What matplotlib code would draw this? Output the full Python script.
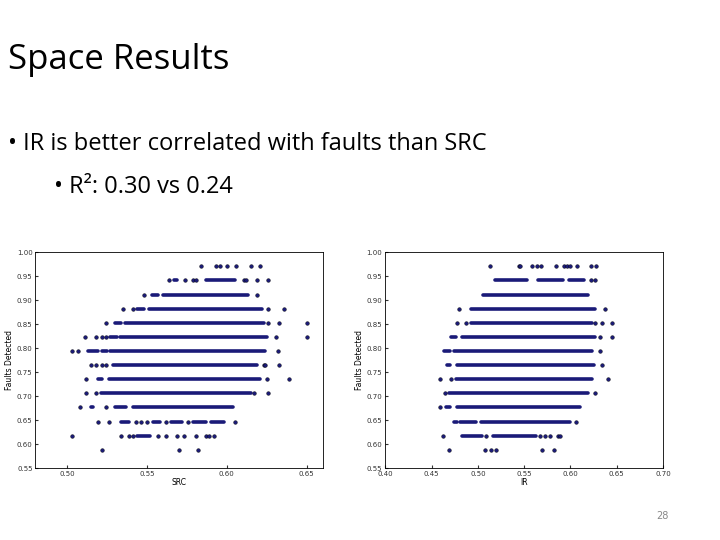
import matplotlib.pyplot as plt

# fault-detection levels (rows of the scatter)
levels = [k / 34 for k in range(20, 34)]  # 0.588 .. 0.971

# SRC plot: isolated points and dense runs (start, end) per level
src_points = [
    [0.522, 0.570, 0.582],
    [0.503, 0.534, 0.539, 0.541, 0.557, 0.562, 0.569, 0.573, 0.581, 0.587, 0.589, 0.592],
    [0.519, 0.526, 0.543, 0.546, 0.550, 0.562, 0.576, 0.605],
    [0.508, 0.524],
    [0.512, 0.518, 0.617, 0.626],
    [0.512, 0.625, 0.639],
    [0.515, 0.518, 0.522, 0.524, 0.623, 0.624, 0.633],
    [0.503, 0.507, 0.632],
    [0.511, 0.518, 0.522, 0.524, 0.631, 0.650],
    [0.524, 0.626, 0.633, 0.650],
    [0.535, 0.541, 0.626, 0.636],
    [0.548, 0.619],
    [0.564, 0.574, 0.579, 0.581, 0.611, 0.612, 0.619, 0.626],
    [0.584, 0.593, 0.596, 0.600, 0.606, 0.615, 0.621],
]
src_runs = [
    [],
    [(0.544, 0.552)],
    [(0.534, 0.539), (0.554, 0.558), (0.565, 0.572), (0.579, 0.587), (0.590, 0.598)],
    [(0.515, 0.516), (0.530, 0.537), (0.541, 0.604)],
    [(0.521, 0.615)],
    [(0.519, 0.522), (0.526, 0.621)],
    [(0.529, 0.619)],
    [(0.513, 0.519), (0.522, 0.525), (0.527, 0.624)],
    [(0.527, 0.531), (0.533, 0.625)],
    [(0.530, 0.534), (0.536, 0.623)],
    [(0.544, 0.548), (0.551, 0.622)],
    [(0.553, 0.557), (0.560, 0.613)],
    [(0.567, 0.569), (0.587, 0.605)],
    [],
]

# IR plot
ir_points = [
    [0.469, 0.508, 0.514, 0.520, 0.569, 0.582],
    [0.462, 0.509, 0.567, 0.572, 0.578, 0.587, 0.589],
    [0.606],
    [0.459],
    [0.465, 0.626],
    [0.459, 0.471, 0.640],
    [0.634],
    [0.632],
    [0.632, 0.645],
    [0.477, 0.487, 0.627, 0.634, 0.645],
    [0.480, 0.637],
    [],
    [0.622, 0.627],
    [0.513, 0.544, 0.546, 0.558, 0.564, 0.568, 0.584, 0.593, 0.596, 0.599,
     0.607, 0.622, 0.628],
]
ir_runs = [
    [],
    [(0.483, 0.504), (0.516, 0.563)],
    [(0.474, 0.477), (0.481, 0.498), (0.503, 0.599)],
    [(0.466, 0.470), (0.478, 0.610)],
    [(0.469, 0.619)],
    [(0.476, 0.623)],
    [(0.467, 0.470), (0.478, 0.625)],
    [(0.463, 0.470), (0.474, 0.623)],
    [(0.471, 0.476), (0.483, 0.626)],
    [(0.493, 0.623)],
    [(0.493, 0.627)],
    [(0.506, 0.619)],
    [(0.518, 0.553), (0.565, 0.592), (0.598, 0.615)],
    [],
]

fig = plt.figure(figsize=(7.2, 5.4), dpi=100)
fig.text(0.011, 0.888, "Space Results", fontsize=25, family="Open Sans", va="center")
fig.text(0.011, 0.733, "\u2022 IR is better correlated with faults than SRC",
         fontsize=17, family="Open Sans", va="center")
fig.text(0.075, 0.653, "\u2022 R\u00b2: 0.30 vs 0.24", fontsize=17, family="Open Sans",
         va="center")
fig.text(0.912, 0.045, "28", fontsize=7, color="#888888", va="center")

dot = "#1a1a78"


def draw(ax, points, runs, xlim, xticks, xlabel):
    for y, xs, rs in zip(levels, points, runs):
        for a, b in rs:
            ax.plot([a, b], [y, y], color=dot, lw=2.6, solid_capstyle="round", zorder=2)
        ax.scatter(xs, [y] * len(xs), s=7, color=dot, edgecolors="black",
                   linewidths=0.3, zorder=3)
    ax.set_xlim(xlim)
    ax.set_ylim(0.55, 1.0)
    ax.set_xticks(xticks)
    ax.set_yticks([0.55 + 0.05 * i for i in range(10)])
    ax.tick_params(labelsize=5, length=2, direction="in", pad=2, colors="#333333")
    ax.set_xlabel(xlabel, fontsize=5.5, labelpad=1)
    ax.set_ylabel("Faults Detected", fontsize=5.5, labelpad=2)
    for s in ax.spines.values():
        s.set_linewidth(0.6)


ax1 = fig.add_axes([0.049, 0.133, 0.399, 0.4])
draw(ax1, src_points, src_runs, (0.48, 0.66), [0.50, 0.55, 0.60, 0.65], "SRC")
ax2 = fig.add_axes([0.535, 0.133, 0.386, 0.4])
draw(ax2, ir_points, ir_runs, (0.40, 0.70),
     [0.40, 0.45, 0.50, 0.55, 0.60, 0.65, 0.70], "IR")

fig.savefig("out.png")
